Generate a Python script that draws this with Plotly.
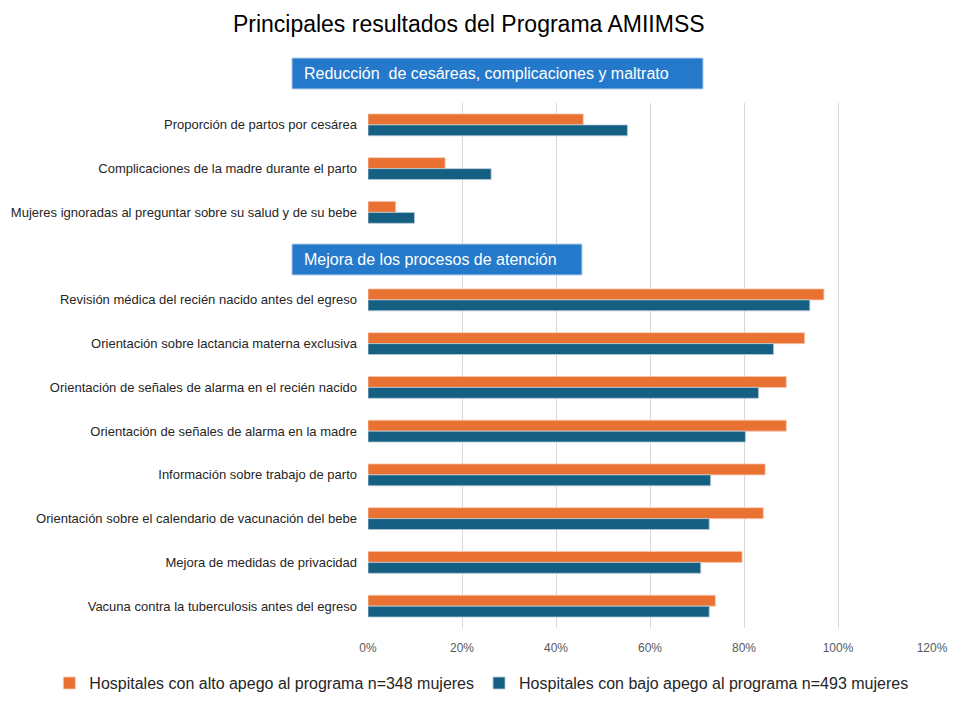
import plotly.graph_objects as go

# categories, top to bottom; the blank one leaves room for the second header
categorias = [
    "Proporción de partos por cesárea",
    "Complicaciones de la madre durante el parto",
    "Mujeres ignoradas al preguntar sobre su salud y de su bebe",
    " ",
    "Revisión médica del recién nacido antes del egreso",
    "Orientación sobre lactancia materna exclusiva",
    "Orientación de señales de alarma en el recién nacido",
    "Orientación de señales de alarma en la madre",
    "Información sobre trabajo de parto",
    "Orientación sobre el calendario de vacunación del bebe",
    "Mejora de medidas de privacidad",
    "Vacuna contra la tuberculosis antes del egreso",
]

alto_apego = [0.458, 0.164, 0.059, None, 0.970, 0.929, 0.890, 0.890, 0.845, 0.841, 0.796, 0.739]
bajo_apego = [0.552, 0.262, 0.099, None, 0.940, 0.863, 0.831, 0.803, 0.729, 0.726, 0.708, 0.726]

nombre_alto = "Hospitales con alto apego al programa n=348 mujeres"
nombre_bajo = "Hospitales con bajo apego al programa n=493 mujeres"

titulo = "Principales resultados del Programa AMIIMSS"
seccion_1 = "Reducción  de cesáreas, complicaciones y maltrato"
seccion_2 = "Mejora de los procesos de atención"

NARANJA = "#E97132"
AZUL = "#156082"
AZUL_CAJA = "#2479CA"
FUENTE = "Liberation Sans, Arial, sans-serif"

fig = go.Figure()
fig.add_trace(go.Bar(
    y=categorias, x=alto_apego, name=nombre_alto, orientation="h",
    marker={"color": NARANJA, "line": {"color": "#F6C8AE", "width": 0.8}},
))
fig.add_trace(go.Bar(
    y=categorias, x=bajo_apego, name=nombre_bajo, orientation="h",
    marker={"color": AZUL, "line": {"color": "#B9CCD8", "width": 0.8}},
))

# header boxes, positions in plot-area fractions
cajas = [
    (seccion_1, -0.1348, 0.594, 1.0267, 1.0857),
    (seccion_2, -0.1348, 0.3794, 0.6724, 0.7314),
]
for texto, x0, x1, y0, y1 in cajas:
    fig.add_shape(
        type="rect", xref="paper", yref="paper",
        x0=x0, x1=x1, y0=y0, y1=y1,
        fillcolor=AZUL_CAJA, line={"color": "#B7CFEA", "width": 1},
        layer="above",
    )
    fig.add_annotation(
        text=texto, xref="paper", yref="paper",
        x=x0 + 0.018, y=(y0 + y1) / 2, xanchor="left", yanchor="middle",
        showarrow=False, font={"color": "white", "size": 16, "family": FUENTE},
    )

# the page body adds 8px around the figure
fig.update_layout(
    width=948,
    height=693,
    margin={"l": 360, "r": 24, "t": 95, "b": 73, "autoexpand": False},
    paper_bgcolor="white",
    plot_bgcolor="white",
    barmode="group",
    bargap=0.5,
    bargroupgap=0,
    font={"family": FUENTE, "color": "#262626"},
    title={
        "text": titulo, "x": 0.486, "xanchor": "center",
        "y": 0.977, "yanchor": "middle",
        "font": {"size": 23, "color": "black"},
    },
    xaxis={
        "range": [0, 1.2], "dtick": 0.2, "tickformat": ".0%",
        "showgrid": True, "gridcolor": "#D9D9D9", "gridwidth": 1,
        "zeroline": False, "showline": False,
        "tickfont": {"size": 12, "color": "#595959"},
        "ticklabelstandoff": 11,
        "automargin": False,
    },
    yaxis={
        "type": "category",
        "categoryorder": "array", "categoryarray": categorias,
        "range": [len(categorias) - 0.5, -0.5],
        "showgrid": False, "zeroline": False, "showline": False,
        "tickfont": {"size": 13, "color": "#262626"},
        "ticklabelstandoff": 10,
        "automargin": False,
    },
    legend={
        "orientation": "h", "xref": "paper", "yref": "paper",
        "x": -0.565, "xanchor": "left",
        "y": -0.105, "yanchor": "middle",
        "font": {"size": 16, "color": "#262626"},
        "traceorder": "normal",
        "itemwidth": 30,
    },
)

fig.write_html("out.html")
